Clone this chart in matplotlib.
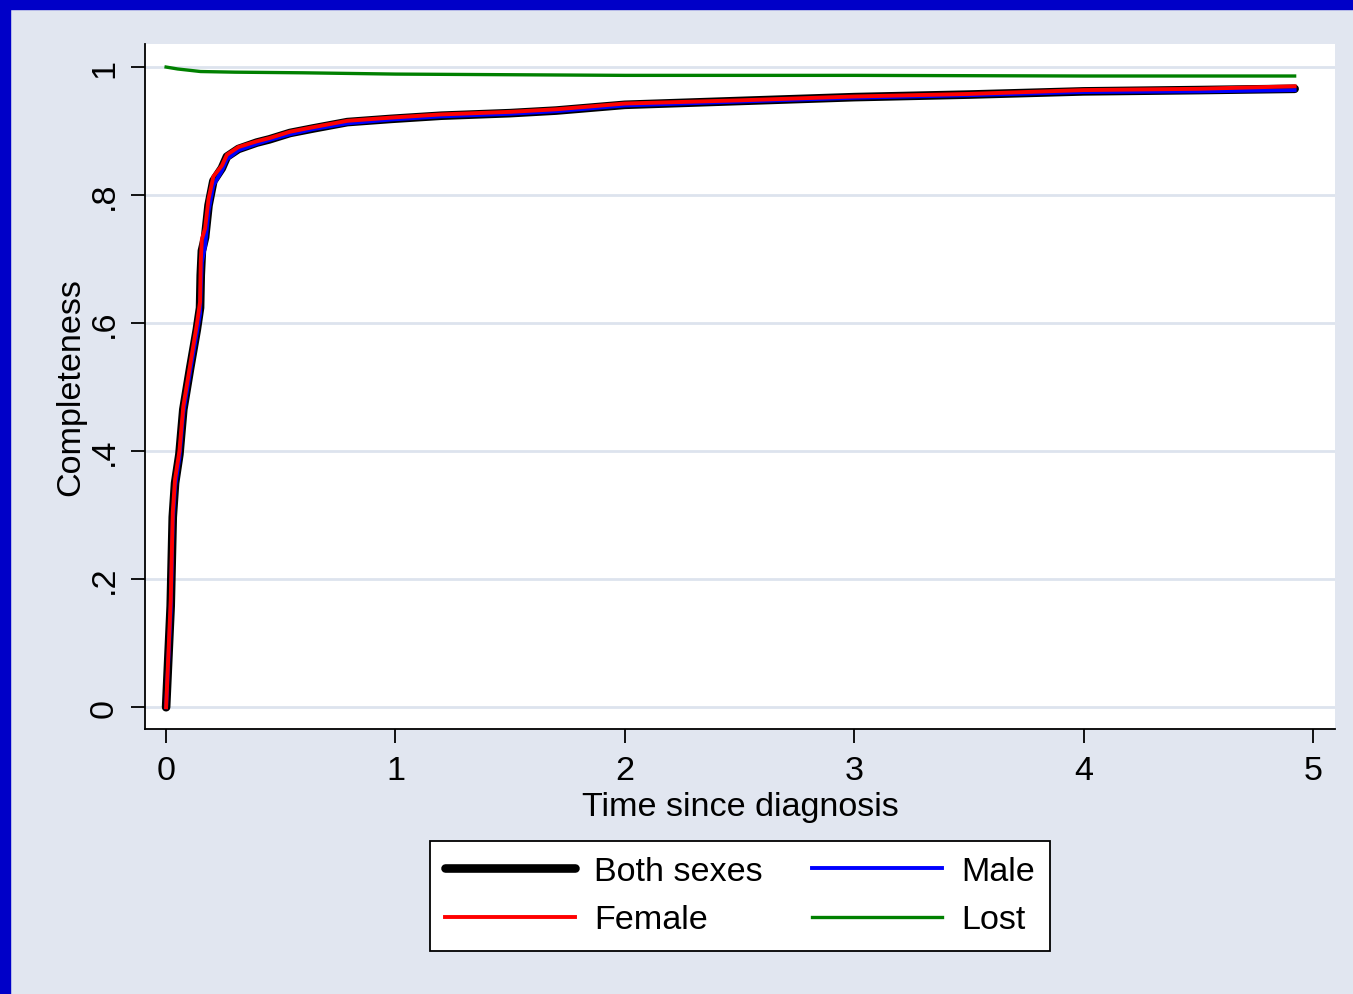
import matplotlib
matplotlib.use("Agg")
import matplotlib.pyplot as plt
from matplotlib.patches import Rectangle

plt.rcParams["font.family"] = ["Liberation Sans", "DejaVu Sans"]

# completeness curves (time in years)
time = [0, 0.02, 0.029, 0.039, 0.058, 0.075, 0.105, 0.134, 0.148, 0.151, 0.156, 0.17,
        0.185, 0.206, 0.243, 0.265, 0.315, 0.395, 0.45, 0.54, 0.64, 0.79, 0.98, 1.2,
        1.5, 1.7, 2.0, 2.5, 3.0, 3.5, 4.0, 4.5, 4.92]
female = [0, 0.166, 0.304, 0.356, 0.40, 0.47, 0.535, 0.598, 0.633, 0.696, 0.731, 0.748,
          0.794, 0.829, 0.846, 0.863, 0.875, 0.884, 0.889, 0.899, 0.906, 0.916, 0.921, 0.926,
          0.930, 0.934, 0.943, 0.948, 0.954, 0.958, 0.964, 0.966, 0.970]
male = [0, 0.15, 0.29, 0.345, 0.39, 0.46, 0.525, 0.585, 0.615, 0.655, 0.695, 0.72,
        0.775, 0.815, 0.838, 0.856, 0.870, 0.880, 0.886, 0.895, 0.903, 0.912, 0.918, 0.923,
        0.927, 0.931, 0.940, 0.946, 0.952, 0.956, 0.961, 0.962, 0.964]
both = [0, 0.158, 0.297, 0.35, 0.395, 0.465, 0.53, 0.59, 0.624, 0.675, 0.713, 0.734,
        0.784, 0.822, 0.842, 0.86, 0.872, 0.882, 0.887, 0.897, 0.904, 0.914, 0.919, 0.924,
        0.928, 0.932, 0.941, 0.947, 0.953, 0.957, 0.962, 0.964, 0.966]
time_lost = [0, 0.05, 0.1, 0.15, 0.3, 0.6, 1.0, 1.5, 2.0, 3.0, 4.0, 4.92]
lost = [1.0, 0.997, 0.995, 0.993, 0.992, 0.991, 0.989, 0.988, 0.987, 0.987, 0.986, 0.986]

xticks = [0, 1, 2, 3, 4, 5]
yticks = [0, 0.2, 0.4, 0.6, 0.8, 1.0]
ytick_labels = ["0", ".2", ".4", ".6", ".8", "1"]

bg = "#E1E6F0"
fs = 24.6

fig = plt.figure(figsize=(13.53, 9.95), dpi=100, facecolor=bg)
# blue frame on the left and top edges
fig.patches.append(Rectangle((0, 0), 10 / 1353, 1, transform=fig.transFigure,
                             color="#0000C8", zorder=10))
fig.patches.append(Rectangle((0, 1 - 10 / 995), 1, 10 / 995, transform=fig.transFigure,
                             color="#0000C8", zorder=10))

ax = fig.add_axes([145 / 1353, 265 / 995, 1190 / 1353, 685 / 995])
ax.set_facecolor("white")
ax.set_xlim(-0.092, 5.096)
ax.set_ylim(-0.034, 1.036)

for y in yticks:
    ax.axhline(y, color="#DDE3EE", lw=2.0, zorder=0)

ax.plot(time, both, color="black", lw=6.2, solid_capstyle="round", label="Both sexes", zorder=2)
ax.plot(time, male, color="#0000FF", lw=2.8, label="Male", zorder=3)
ax.plot(time, female, color="#FF0000", lw=2.8, label="Female", zorder=4)
ax.plot(time_lost, lost, color="#008000", lw=2.4, label="Lost", zorder=3)

for s in ("top", "right"):
    ax.spines[s].set_visible(False)
for s in ("left", "bottom"):
    ax.spines[s].set_linewidth(1.3)

ax.set_xticks(xticks)
ax.set_yticks(yticks)
ax.set_yticklabels(ytick_labels, rotation=90, va="center")
ax.tick_params(axis="both", labelsize=fs, length=10, width=1.3, direction="out")
ax.tick_params(axis="x", pad=9)
ax.tick_params(axis="y", pad=8)

ax.set_xlabel("Time since diagnosis", fontsize=fs, labelpad=3)
ax.set_ylabel("Completeness", fontsize=fs, labelpad=2)

h = dict(zip([l.get_label() for l in ax.lines], ax.lines))
leg = fig.legend([h["Both sexes"], h["Female"], h["Male"], h["Lost"]],
                 ["Both sexes", "Female", "Male", "Lost"],
                 ncol=2, loc="upper center", bbox_to_anchor=(740 / 1353, 153 / 995),
                 fontsize=fs, frameon=True, fancybox=False, edgecolor="black",
                 framealpha=1, borderaxespad=0, handlelength=3.8, handletextpad=0.55,
                 columnspacing=1.45, labelspacing=0.5, borderpad=0.45)
leg.get_frame().set_linewidth(1.3)

fig.savefig("out.png", dpi=100, facecolor=bg)
